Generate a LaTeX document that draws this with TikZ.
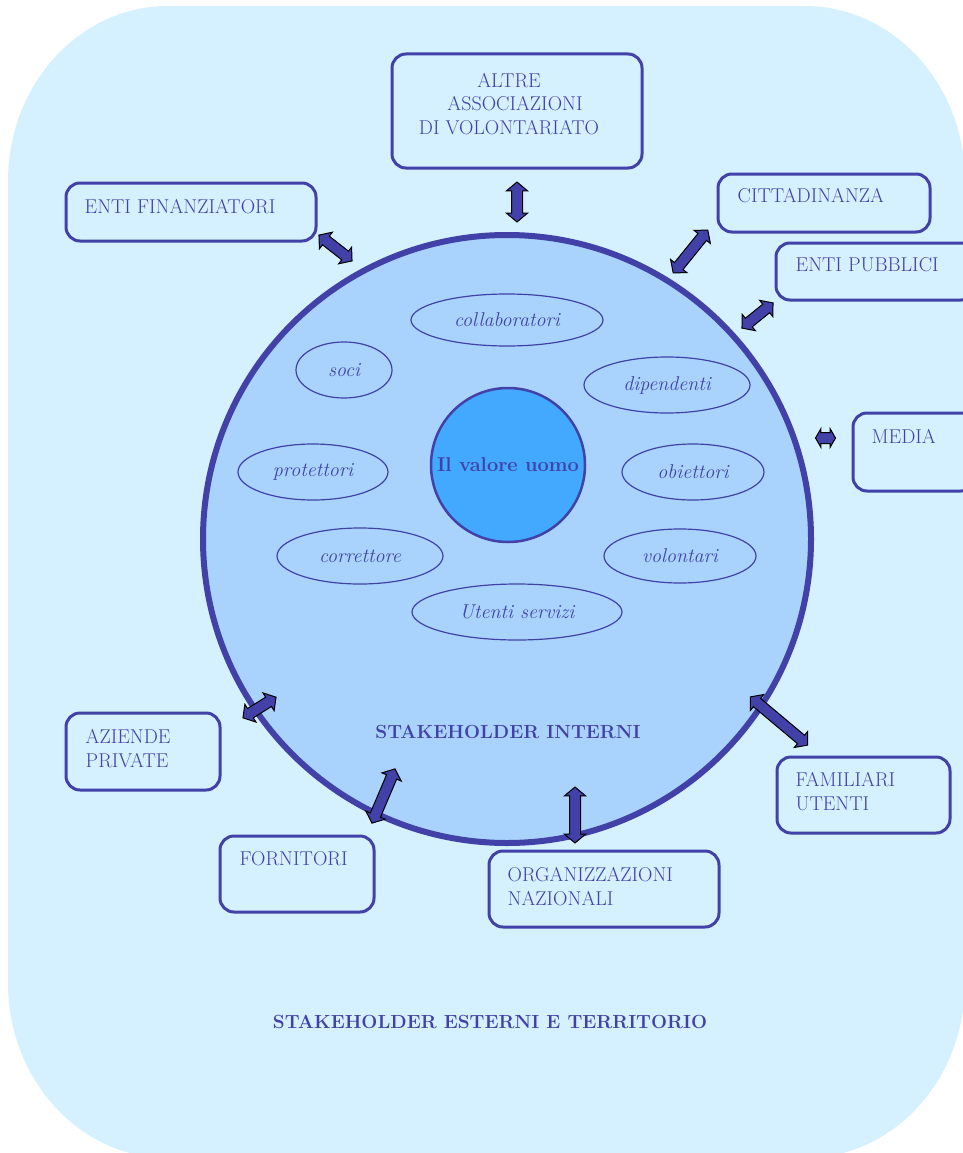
\documentclass[tikz,border=0pt]{standalone}
\usepackage{fontspec}
\usetikzlibrary{shapes.geometric,shapes.arrows}
\definecolor{SkyBg}{HTML}{D5F0FF}
\definecolor{RingBlue}{HTML}{A9D3FD}
\definecolor{CoreBlue}{HTML}{42A9FE}
\definecolor{InkBlue}{HTML}{4141A8}

\begin{document}
\begin{tikzpicture}[x=1pt, y=-1pt,
  every node/.style={font=\fontsize{20}{23.5}\selectfont, text=InkBlue},
  ext/.style={draw=InkBlue, line width=3pt, rounded corners=14pt, fill=SkyBg, inner sep=0pt},
  lbl/.style={anchor=north west, inner sep=0pt, align=left},
  role/.style={ellipse, draw=InkBlue, line width=1.2pt, inner sep=0pt,
    font=\fontsize{20}{22}\selectfont\itshape},
  title/.style={font=\fontsize{19}{22}\selectfont\bfseries},
  link/.style={double arrow, draw=black, fill=InkBlue, line width=1pt, inner xsep=0pt, inner ysep=5pt,
    double arrow head extend=5pt, double arrow tip angle=100}]
  \clip (0,0) rectangle (963,1153);
  % territory background
  \fill[SkyBg] (8,181) .. controls (8,84) and (80,6) .. (168,6) -- (805,6)
    .. controls (893,6) and (965,84) .. (965,181) -- (965,983)
    .. controls (965,1080) and (893,1158) .. (805,1158) -- (168,1158)
    .. controls (80,1158) and (8,1080) .. (8,983) -- cycle;
  % internal stakeholders
  \node[circle, draw=InkBlue, line width=6pt, fill=RingBlue, minimum size=608pt] (ring) at (507,539) {};
  \node[circle, draw=InkBlue, line width=2.5pt, fill=CoreBlue, minimum size=154pt, inner sep=0pt,
    font=\fontsize{20}{22}\selectfont\bfseries] (core) at (508,465) {Il valore uomo};
  \node[role, minimum width=192pt, minimum height=52pt] (collab) at (507,320) {collaboratori};
  \node[role, minimum width=96pt, minimum height=56pt] (soci) at (344,370) {soci};
  \node[role, minimum width=166pt, minimum height=56pt] (dip) at (667,385) {dipendenti};
  \node[role, minimum width=150pt, minimum height=56pt] (prot) at (313,472) {protettori};
  \node[role, minimum width=142pt, minimum height=56pt] (obi) at (693,472) {obiettori};
  \node[role, minimum width=166pt, minimum height=56pt] (corr) at (360,556) {correttore};
  \node[role, minimum width=152pt, minimum height=54pt] (vol) at (680,556) {volontari};
  \node[role, minimum width=210pt, minimum height=56pt] (utenti) at (517,612) {Utenti servizi};
  \node[title] (intlbl) at (508,732) {STAKEHOLDER INTERNI};
  % external stakeholders
  \node[ext, minimum width=250pt, minimum height=114pt] (altre) at (517,111) {};
  \node[align=center, anchor=north, inner sep=0pt] (altretxt) at (509,73)
    {ALTRE\\ \ \ ASSOCIAZIONI\\DI VOLONTARIATO};
  \node[ext, minimum width=250pt, minimum height=58pt] (fin) at (191,212) {};
  \node[lbl] (fintxt) at ([shift={(20,18)}]fin.north west) {ENTI FINANZIATORI};
  \node[ext, minimum width=212pt, minimum height=58pt] (citt) at (824,203) {};
  \node[lbl] (citttxt) at ([shift={(21,16)}]citt.north west) {CITTADINANZA};
  \node[ext, minimum width=199pt, minimum height=57pt] (pubb) at (875.5,271.5) {};
  \node[lbl] (pubbtxt) at ([shift={(21,16)}]pubb.north west) {ENTI PUBBLICI};
  \node[ext, minimum width=122pt, minimum height=78pt] (media) at (914,452) {};
  \node[lbl] (mediatxt) at ([shift={(20,18)}]media.north west) {MEDIA};
  \node[ext, minimum width=154pt, minimum height=77pt] (aziende) at (143,751.5) {};
  \node[lbl] (aziendetxt) at ([shift={(21,18)}]aziende.north west) {AZIENDE\\PRIVATE};
  \node[ext, minimum width=154pt, minimum height=76pt] (forn) at (297,874) {};
  \node[lbl] (forntxt) at ([shift={(21,17)}]forn.north west) {FORNITORI};
  \node[ext, minimum width=230pt, minimum height=76pt] (org) at (604,889) {};
  \node[lbl] (orgtxt) at ([shift={(20,18)}]org.north west) {ORGANIZZAZIONI\\NAZIONALI};
  \node[ext, minimum width=173pt, minimum height=76pt] (fam) at (863.5,795) {};
  \node[lbl] (famtxt) at ([shift={(20,17)}]fam.north west) {FAMILIARI\\UTENTI};
  \node[title] (extlbl) at (490,1022) {STAKEHOLDER ESTERNI E TERRITORIO};
  % two-way links
  \node[link, minimum height=40pt, rotate=90] (a-altre) at (517,202) {};
  \node[link, minimum height=42pt, rotate=-38] (a-fin) at (335.5,248) {};
  \node[link, minimum height=55pt, rotate=51] (a-citt) at (690.5,251.5) {};
  \node[link, minimum height=40pt, rotate=39] (a-pubb) at (757.5,315.5) {};
  \node[link, minimum height=20pt, double arrow head extend=4pt, double arrow tip angle=120] (a-media) at (825.5,438) {};
  \node[link, minimum height=39pt, rotate=32] (a-aziende) at (259.5,707.5) {};
  \node[link, minimum height=59pt, rotate=67] (a-forn) at (383.5,796) {};
  \node[link, minimum height=56pt, rotate=90] (a-org) at (575,815) {};
  \node[link, minimum height=75pt, rotate=-40] (a-fam) at (779,721) {};
\end{tikzpicture}
\end{document}
